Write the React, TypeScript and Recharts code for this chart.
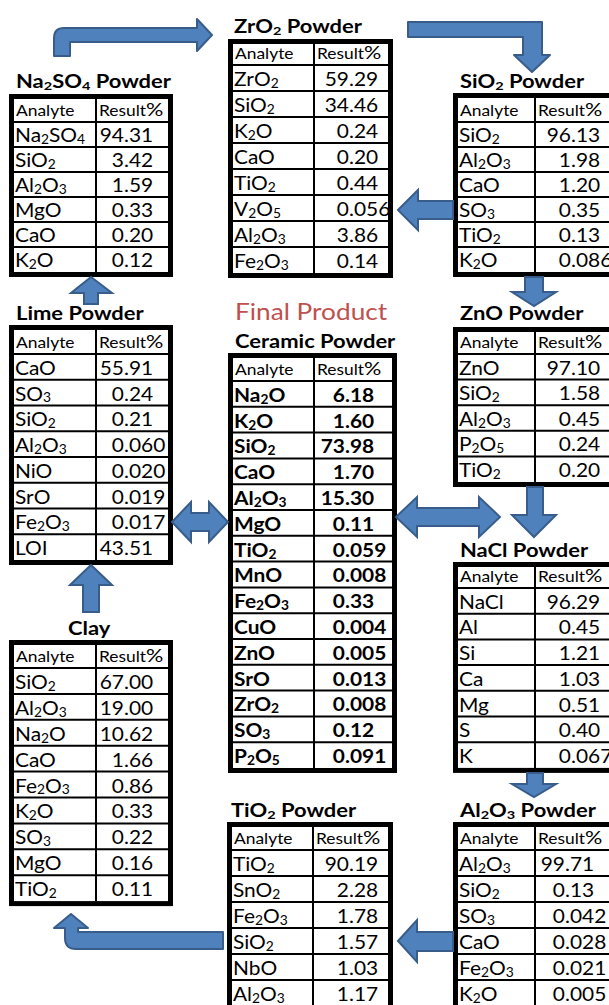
import React from "react";
import { Surface, Layer, Polygon } from "recharts";

const W = 609;
const H = 1005;
const FONT = "Lato, 'Open Sans', sans-serif";
const BLUE = "#4f81bd";
const BLUE_EDGE = "#385d8a";

// ---- data ----
const na2so4Analytes = ["Na2SO4", "SiO2", "Al2O3", "MgO", "CaO", "K2O"];
const na2so4Results = ["94.31", "3.42", "1.59", "0.33", "0.20", "0.12"];

const zro2Analytes = ["ZrO2", "SiO2", "K2O", "CaO", "TiO2", "V2O5", "Al2O3", "Fe2O3"];
const zro2Results = ["59.29", "34.46", "0.24", "0.20", "0.44", "0.056", "3.86", "0.14"];

const sio2Analytes = ["SiO2", "Al2O3", "CaO", "SO3", "TiO2", "K2O"];
const sio2Results = ["96.13", "1.98", "1.20", "0.35", "0.13", "0.086"];

const limeAnalytes = ["CaO", "SO3", "SiO2", "Al2O3", "NiO", "SrO", "Fe2O3", "LOI"];
const limeResults = ["55.91", "0.24", "0.21", "0.060", "0.020", "0.019", "0.017", "43.51"];

const ceramicAnalytes = ["Na2O", "K2O", "SiO2", "CaO", "Al2O3", "MgO", "TiO2", "MnO", "Fe2O3", "CuO", "ZnO", "SrO", "ZrO2", "SO3", "P2O5"];
const ceramicResults = ["6.18", "1.60", "73.98", "1.70", "15.30", "0.11", "0.059", "0.008", "0.33", "0.004", "0.005", "0.013", "0.008", "0.12", "0.091"];

const znoAnalytes = ["ZnO", "SiO2", "Al2O3", "P2O5", "TiO2"];
const znoResults = ["97.10", "1.58", "0.45", "0.24", "0.20"];

const naclAnalytes = ["NaCl", "Al", "Si", "Ca", "Mg", "S", "K"];
const naclResults = ["96.29", "0.45", "1.21", "1.03", "0.51", "0.40", "0.067"];

const clayAnalytes = ["SiO2", "Al2O3", "Na2O", "CaO", "Fe2O3", "K2O", "SO3", "MgO", "TiO2"];
const clayResults = ["67.00", "19.00", "10.62", "1.66", "0.86", "0.33", "0.22", "0.16", "0.11"];

const tio2Analytes = ["TiO2", "SnO2", "Fe2O3", "SiO2", "NbO", "Al2O3"];
const tio2Results = ["90.19", "2.28", "1.78", "1.57", "1.03", "1.17"];

const al2o3Analytes = ["Al2O3", "SiO2", "SO3", "CaO", "Fe2O3", "K2O"];
const al2o3Results = ["99.71", "0.13", "0.042", "0.028", "0.021", "0.005"];

const headerLabels = ["Analyte", "Result"];

type Tbl = {
  title: string;
  tx: number;
  ty: number;
  left: number;
  right: number;
  top: number;
  div: number;
  dec: number;
  headerH: number;
  rowH: number;
  analytes: string[];
  results: string[];
  bold?: boolean;
};

const tables: Tbl[] = [
  { title: "Na2SO4 Powder", tx: 16, ty: 88, left: 9, right: 173, top: 94, div: 96, dec: 28, headerH: 23, rowH: 25, analytes: na2so4Analytes, results: na2so4Results },
  { title: "ZrO2 Powder", tx: 234, ty: 33, left: 228, right: 393, top: 39, div: 314, dec: 35, headerH: 21, rowH: 26, analytes: zro2Analytes, results: zro2Results },
  { title: "SiO2 Powder", tx: 460, ty: 88, left: 453, right: 620, top: 93, div: 535, dec: 36, headerH: 24, rowH: 25, analytes: sio2Analytes, results: sio2Results },
  { title: "Lime Powder", tx: 16, ty: 320, left: 9, right: 173, top: 325, div: 96, dec: 28, headerH: 24, rowH: 25.75, analytes: limeAnalytes, results: limeResults },
  { title: "Ceramic Powder", tx: 235, ty: 348, left: 228, right: 397, top: 353, div: 314, dec: 31, headerH: 23, rowH: 25.8, analytes: ceramicAnalytes, results: ceramicResults, bold: true },
  { title: "ZnO Powder", tx: 460, ty: 320, left: 453, right: 620, top: 327, div: 535, dec: 36, headerH: 22, rowH: 25.6, analytes: znoAnalytes, results: znoResults },
  { title: "NaCl Powder", tx: 460, ty: 557, left: 453, right: 620, top: 562, div: 535, dec: 36, headerH: 21, rowH: 25.7, analytes: naclAnalytes, results: naclResults },
  { title: "Clay", tx: 68, ty: 635, left: 9, right: 173, top: 640, div: 96, dec: 28, headerH: 23, rowH: 25.9, analytes: clayAnalytes, results: clayResults },
  { title: "TiO2 Powder", tx: 231, ty: 817, left: 227, right: 393, top: 822, div: 313, dec: 36, headerH: 23, rowH: 26, analytes: tio2Analytes, results: tio2Results },
  { title: "Al2O3 Powder", tx: 460, ty: 817, left: 453, right: 620, top: 822, div: 535, dec: 30, headerH: 23, rowH: 26, analytes: al2o3Analytes, results: al2o3Results },
];

// horizontal stretch of the lettering (the source image is a bit wide)
const SX_TITLE = 1.22;
const SX_CELL = 1.1;
const SX_HEAD = 1.2;

// split "Na2SO4" into normal / subscript pieces
function pieces(s: string) {
  const out: { t: string; sub: boolean }[] = [];
  for (let i = 0; i < s.length; i++) {
    const c = s[i];
    const sub = /[0-9]/.test(c) && i > 0 && /[A-Za-z0-9]/.test(s[i - 1]);
    const last = out[out.length - 1];
    if (last && last.sub === sub) last.t += c;
    else out.push({ t: c, sub });
  }
  return out;
}

function Chem({ x, y, s, size, bold, sx }: { x: number; y: number; s: string; size: number; bold?: boolean; sx: number }) {
  const shift = size * 0.1;
  let cur = 0;
  return (
    <g transform={`translate(${x},${y}) scale(${sx},1)`}>
      <text x={0} y={0} fontSize={size} fontWeight={bold ? 700 : 400} fontFamily={FONT} fill="#000">
        {pieces(s).map((p, i) => {
          const want = p.sub ? shift : 0;
          const dy = want - cur;
          cur = want;
          return (
            <tspan key={i} dy={dy || undefined} fontSize={p.sub ? size * 0.66 : size}>
              {p.t}
            </tspan>
          );
        })}
      </text>
    </g>
  );
}

function Value({ x, y, v, size, bold }: { x: number; y: number; v: string; size: number; bold?: boolean }) {
  const [a, b] = v.split(".");
  const common = { fontSize: size, fontWeight: bold ? 700 : 400, fontFamily: FONT, fill: "#000" };
  return (
    <g transform={`translate(${x},${y}) scale(${SX_CELL},1)`}>
      <text x={0} y={0} textAnchor="end" {...common}>{a}</text>
      <text x={0} y={0} textAnchor="start" {...common}>{"." + b}</text>
    </g>
  );
}

function Table({ t }: { t: Tbl }) {
  const inL = t.left + 5;
  const inR = t.right - 5;
  const inT = t.top + 5;
  const n = t.analytes.length;
  const outB = inT + t.headerH + n * t.rowH + 5;
  const size = 19;
  const hy = inT + t.headerH - 6;
  return (
    <Layer>
      <Chem x={t.tx} y={t.ty} s={t.title} size={18} bold sx={SX_TITLE} />
      <rect x={t.left + 2.5} y={t.top + 2.5} width={t.right - t.left - 5} height={outB - t.top - 5} fill="#fff" stroke="#000" strokeWidth={5} />
      {Array.from({ length: n }, (_, i) => {
        const y = inT + t.headerH + i * t.rowH;
        return <line key={i} x1={inL} x2={inR} y1={y} y2={y} stroke="#000" strokeWidth={2} />;
      })}
      <line x1={t.div} x2={t.div} y1={inT} y2={outB - 5} stroke="#000" strokeWidth={2} />
      <g transform={`translate(${inL + 2},${hy}) scale(${SX_HEAD},1)`}>
        <text x={0} y={0} fontSize={14.5} fontFamily={FONT}>{headerLabels[0]}</text>
      </g>
      <g transform={`translate(${t.div + 3},${hy}) scale(${SX_HEAD},1)`}>
        <text x={0} y={0} fontSize={14.5} fontFamily={FONT}>
          {headerLabels[1]}
          <tspan fontSize={18}>%</tspan>
        </text>
      </g>
      {t.analytes.map((a, i) => {
        const yb = inT + t.headerH + (i + 1) * t.rowH - 5;
        return (
          <g key={a + i}>
            <Chem x={inL + 1} y={yb} s={a} size={size} bold={t.bold} sx={SX_CELL} />
            <Value x={t.div + t.dec} y={yb} v={t.results[i]} size={size} bold={t.bold} />
          </g>
        );
      })}
    </Layer>
  );
}

const pts = (a: number[][]) => a.map(([x, y]) => ({ x, y }));

const straightArrows = [
  // SiO2 -> ZrO2
  [[398, 210], [418, 190], [418, 201], [453, 201], [453, 219], [418, 219], [418, 230]],
  // SiO2 -> ZnO
  [[525, 277], [543, 277], [543, 292], [556, 292], [534, 306], [512, 292], [525, 292]],
  // Lime -> Na2SO4
  [[91, 277], [112, 293], [98, 293], [98, 304], [84, 304], [84, 293], [71, 293]],
  // Lime <-> Ceramic
  [[172, 522], [191, 502], [191, 513], [209, 513], [209, 502], [228, 522], [209, 542], [209, 531], [191, 531], [191, 542]],
  // Ceramic <-> ZnO/NaCl
  [[396, 517], [417, 497], [417, 508], [479, 508], [479, 497], [500, 517], [479, 537], [479, 526], [417, 526], [417, 537]],
  // ZnO -> NaCl
  [[527, 487], [543, 487], [543, 515], [556, 515], [534, 537], [512, 515], [527, 515]],
  // Clay -> Lime
  [[91, 565], [112, 585], [99, 585], [99, 612], [83, 612], [83, 585], [70, 585]],
  // NaCl -> Al2O3
  [[527, 773], [543, 773], [543, 784], [556, 784], [534, 797], [512, 784], [527, 784]],
  // Al2O3 -> TiO2
  [[398, 941], [417, 920], [417, 932], [453, 932], [453, 951], [417, 951], [417, 962]],
];

const bentArrows = [
  "M54,56 L54,38 Q54,28 64,28 L197,28 L197,19 L212,35 L197,51 L197,42 L70,42 L70,56 Z",
  "M408,22 L542,22 L542,55 L550,55 L532,72 L514,55 L523,55 L523,37 L408,37 Z",
  "M223,932 L78,932 L78,928 L88,928 L71,914 L54,928 L65,928 L65,938 Q65,949 76,949 L223,949 Z",
];

export default function App() {
  return (
    <div style={{ width: W, height: H }}>
      <style>{"body{margin:0}"}</style>
      <Surface width={W} height={H}>
        <rect x={0} y={0} width={W} height={H} fill="#fff" />
        {tables.map((t) => (
          <Table key={t.title} t={t} />
        ))}
        <g transform={`translate(235,320) scale(1.14,1)`}>
          <text x={0} y={0} fontSize={23} fontFamily={FONT} fill="#c0504d">Final Product</text>
        </g>
        <Layer>
          {straightArrows.map((a, i) => (
            <Polygon key={i} points={pts(a)} fill={BLUE} stroke={BLUE_EDGE} strokeWidth={2} />
          ))}
          {bentArrows.map((d, i) => (
            <path key={i} d={d} fill={BLUE} stroke={BLUE_EDGE} strokeWidth={2} strokeLinejoin="round" />
          ))}
        </Layer>
      </Surface>
    </div>
  );
}
